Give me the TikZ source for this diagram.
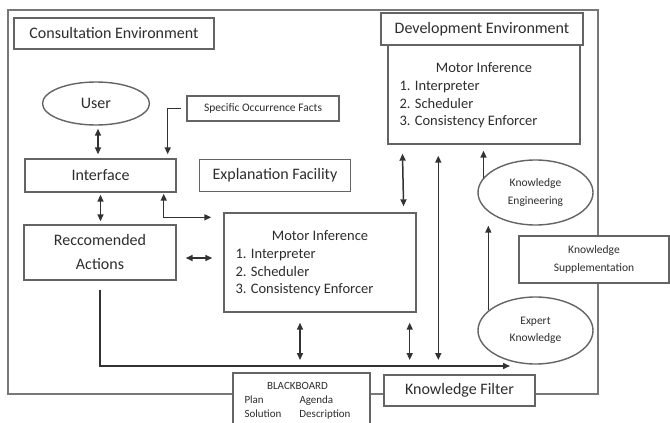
\documentclass[tikz,border=0pt]{standalone}
\usepackage{fontspec}
\setmainfont{Carlito}
\usetikzlibrary{shapes.geometric,arrows.meta,calc}
\definecolor{bordergray}{RGB}{100,100,100}
\definecolor{linegray}{RGB}{50,50,50}
\definecolor{txt}{RGB}{45,45,45}
\definecolor{framegray}{RGB}{120,120,120}
\begin{document}
\begin{tikzpicture}[x=1pt,y=-1pt,
  box/.style={draw=bordergray, fill=white, line width=1.4pt, inner sep=0pt, align=center, text=txt},
  heavybox/.style={box, line width=2.2pt},
  oval/.style={ellipse, draw=bordergray, fill=white, line width=1.4pt, inner sep=0pt, align=center, text=txt},
  arr/.style={-{Triangle[length=7pt,width=6pt]}, line width=1.5pt, draw=linegray},
  dbl/.style={{Triangle[length=7pt,width=6pt]}-{Triangle[length=7pt,width=6pt]}, line width=1.5pt, draw=linegray},
  big/.style={font=\fontsize{16}{24}\selectfont},
  mid/.style={font=\fontsize{14.5}{17.5}\selectfont},
  small/.style={font=\fontsize{11.5}{17.5}\selectfont},
  lbl/.style={inner sep=0pt, text=txt}]
\useasboundingbox (0,0) rectangle (670,423);
\fill[white] (0,0) rectangle (670,423);

% frame
\node[draw=framegray, line width=1.3pt, minimum width=590pt, minimum height=384pt, inner sep=0pt] (frame) at (303,202) {};

% consultation side
\node[heavybox, big, minimum width=200pt, minimum height=31pt] (cons) at (114,33.5) {Consultation Environment};
\node[oval, big, minimum width=107pt, minimum height=43pt] (user) at (96,103.5) {User};
\node[box, small, minimum width=152pt, minimum height=25pt] (spec) at (263,108.5) {Specific Occurrence Facts};
\node[box, big, minimum width=151pt, minimum height=33pt] (intf) at (100.5,175.5) {Interface};
\node[box, big, minimum width=151pt, minimum height=32pt] (expl) at (275,175.5) {Explanation Facility};
\node[box, big, minimum width=152pt, minimum height=55pt] (rec) at (100,252.5) {Reccomended\\Actions};
\node[box, minimum width=192pt, minimum height=99pt] (mot) at (320,262.5) {};
\node[lbl, mid, anchor=base] (mott) at ($(mot.north)+(0,28)$) {Motor Inference};
\node[lbl, mid, anchor=north west, align=left] (motl) at ($(mot.north west)+(12,37)$)
  {1. Interpreter\\2. Scheduler\\3. Consistency Enforcer};

% development side
\node[box, minimum width=192pt, minimum height=99pt] (dmot) at (484,94.5) {};
\node[lbl, mid, anchor=base] (dmott) at ($(dmot.north)+(0,28)$) {Motor Inference};
\node[lbl, mid, anchor=north west, align=left] (dmotl) at ($(dmot.north west)+(12,37)$)
  {1. Interpreter\\2. Scheduler\\3. Consistency Enforcer};
\node[heavybox, big, minimum width=202pt, minimum height=32pt] (dev) at (482,29) {Development Environment};
\node[oval, small, minimum width=115pt, minimum height=65pt] (keng) at (535.5,192.5) {Knowledge\\Engineering};
\node[oval, small, minimum width=115pt, minimum height=67pt] (kexp) at (535.5,330.5) {Expert\\Knowledge};
\node[box, small, minimum width=150pt, minimum height=47pt] (ksup) at (594,259.5) {Knowledge\\Supplementation};

% bottom
\node[box, minimum width=137pt, minimum height=54pt] (bb) at (301.5,400) {};
\node[anchor=north west, inner sep=0pt, text=txt, font=\fontsize{11}{14}\selectfont] (bbt) at ($(bb.north west)+(12,7)$)
  {\begin{tabular}{@{}p{55pt}@{}l@{}}\multicolumn{2}{@{}c@{}}{BLACKBOARD}\\ Plan & Agenda\\ Solution & Description\end{tabular}};
\node[box, big, minimum width=151pt, minimum height=31pt] (kf) at (459.5,390.5) {Knowledge Filter};

% helper coordinates
\coordinate (busend) at (510,366);
\coordinate (c403) at ($(dmot.south west)+(15,0)$);
\coordinate (m403) at ($(mot.north east)+(-13,0)$);
\coordinate (c439) at ($(dmot.south west)+(51,0)$);
\coordinate (m300) at ($(mot.south)+(-20,0)$);
\coordinate (m409) at ($(mot.south east)+(-7,0)$);
\coordinate (recb) at ($(rec.south)+(0,9)$);
\coordinate (intfa) at ($(intf.north east)+(-9,-4)$);
\coordinate (intfb) at ($(intf.south east)+(-13,1)$);
\coordinate (motw) at ($(mot.north west)+(-12,5)$);

% connectors
\draw[dbl, shorten <=3pt, shorten >=4pt] ([xshift=2pt]user.south) -- ([xshift=2pt]user.south |- intf.north);
\draw[arr] ([xshift=-5pt]spec.west) -| (intfa);
\draw[dbl, shorten <=2pt, shorten >=3pt] (intf.south) -- (intf.south |- rec.north);
\draw[dbl] (intfb) |- (motw);
\draw[dbl, shorten <=9pt, shorten >=11pt] ([yshift=-5.5pt]rec.east) -- ([yshift=-5.5pt]rec.east -| mot.west);
\draw[dbl, shorten <=9pt, shorten >=6pt] (c403) -- (m403);
\draw[dbl, shorten <=11pt, shorten >=6pt] (c439) -- (c439 |- busend);
\draw[arr, shorten >=6pt] (keng.164) -- (keng.164 |- dmot.south);
\draw[arr] (kexp.157) -- (kexp.157 |- keng.south);
\draw[arr] (recb) |- (busend);
\draw[dbl, shorten <=10pt, shorten >=6pt] (m300) -- (m300 |- busend);
\draw[dbl, shorten <=10pt, shorten >=6pt] (m409) -- (m409 |- busend);
\end{tikzpicture}
\end{document}
